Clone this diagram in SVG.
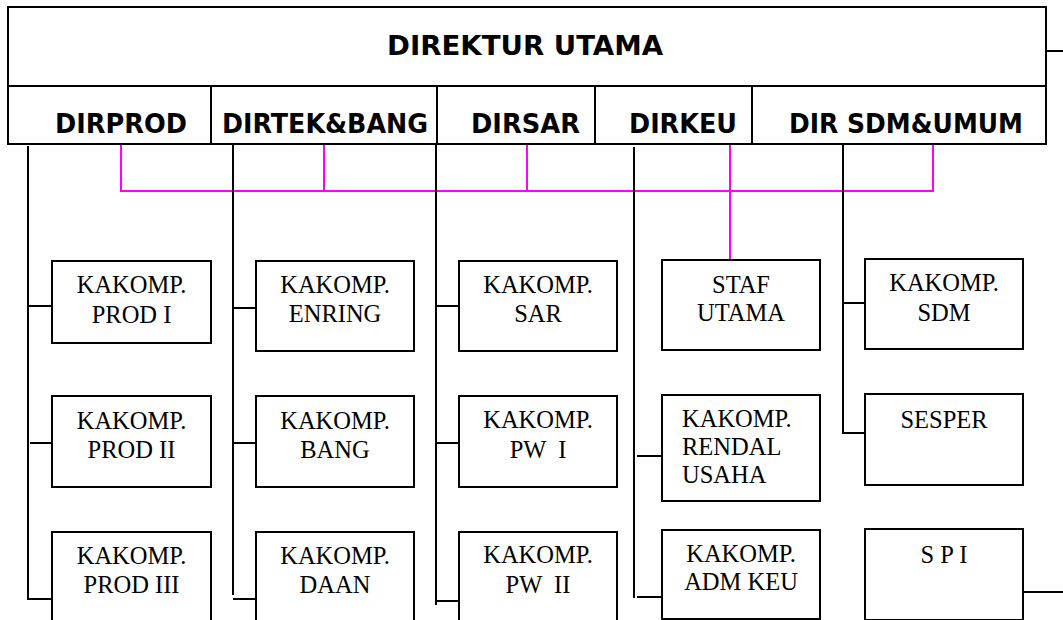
<svg xmlns="http://www.w3.org/2000/svg" width="1063" height="620" viewBox="0 0 1063 620">
<style>
.ln{stroke:#000;stroke-width:2;fill:none}
.mg{stroke:#FF00FF;stroke-width:2;fill:none}
.bx{stroke:#000;stroke-width:2;fill:#fff}
.hd{font-weight:bold;font-size:26px;fill:#000}
.tx{font-size:24.5px;fill:#000;text-anchor:middle;white-space:pre}
.tl{font-size:24.5px;fill:#000;white-space:pre}
</style>
<rect width="1063" height="620" fill="#fff"/>
<g font-family="'DejaVu Sans', Verdana, sans-serif">
<g id="header">
<path class="ln" d="M8,7 H1046 V144 H8 Z M8,86 H1046 M211,86 V144 M437,86 V144 M595,86 V144 M752,86 V144 M1046,51 H1063"/>
<text class="hd" x="387" y="55" textLength="276" lengthAdjust="spacingAndGlyphs">DIREKTUR UTAMA</text>
</g>
<g id="dirprod"><text class="hd" x="55" y="133" textLength="132" lengthAdjust="spacingAndGlyphs">DIRPROD</text></g>
<g id="dirtek"><text class="hd" x="222" y="133" textLength="206" lengthAdjust="spacingAndGlyphs">DIRTEK&amp;BANG</text></g>
<g id="dirsar"><text class="hd" x="471" y="133" textLength="109" lengthAdjust="spacingAndGlyphs">DIRSAR</text></g>
<g id="dirkeu"><text class="hd" x="629" y="133" textLength="108" lengthAdjust="spacingAndGlyphs">DIRKEU</text></g>
<g id="dirsdm"><text class="hd" x="789" y="133" textLength="234" lengthAdjust="spacingAndGlyphs">DIR SDM&amp;UMUM</text></g>
</g>
<g id="connectors">
<path class="mg" d="M121,145 V191 H933 V145 M324,145 V191 M527,145 V191 M730,145 V260"/>
<path class="ln" d="M28,146 V599 H52 M28,306 H52 M30,443 H52"/>
<path class="ln" d="M233,145 V595 M233,308 H256 M233,443 H256 M233,599 H256"/>
<path class="ln" d="M436,145 V605 M436,306 H459 M436,443 H459 M436,601 H459"/>
<path class="ln" d="M634,147 V598 M637,456 H662 M637,597 H662"/>
<path class="ln" d="M843,145 V433 H865 M843,303 H865"/>
<path class="ln" d="M1023,592 H1063"/>
</g>
<g font-family="'Liberation Serif', 'Times New Roman', serif">
<g id="prod1"><rect class="bx" x="52" y="261" width="159" height="82"/><text class="tx" x="131.5" y="293">KAKOMP.</text><text class="tx" x="131.5" y="323">PROD I</text></g>
<g id="prod2"><rect class="bx" x="52" y="396" width="159" height="91"/><text class="tx" x="131.5" y="429">KAKOMP.</text><text class="tx" x="131.5" y="458">PROD II</text></g>
<g id="prod3"><rect class="bx" x="52" y="532" width="159" height="100"/><text class="tx" x="131.5" y="564">KAKOMP.</text><text class="tx" x="131.5" y="593">PROD III</text></g>
<g id="enring"><rect class="bx" x="256" y="261" width="158" height="90"/><text class="tx" x="335" y="293">KAKOMP.</text><text class="tx" x="335" y="322">ENRING</text></g>
<g id="bang"><rect class="bx" x="256" y="396" width="158" height="91"/><text class="tx" x="335" y="429">KAKOMP.</text><text class="tx" x="335" y="458">BANG</text></g>
<g id="daan"><rect class="bx" x="256" y="532" width="158" height="100"/><text class="tx" x="335" y="564">KAKOMP.</text><text class="tx" x="335" y="593">DAAN</text></g>
<g id="sar"><rect class="bx" x="459" y="261" width="158" height="90"/><text class="tx" x="538" y="293">KAKOMP.</text><text class="tx" x="538" y="322">SAR</text></g>
<g id="pw1"><rect class="bx" x="459" y="396" width="158" height="91"/><text class="tx" x="538" y="428">KAKOMP.</text><text class="tx" x="538" y="458">PW  I</text></g>
<g id="pw2"><rect class="bx" x="459" y="532" width="158" height="100"/><text class="tx" x="538" y="563">KAKOMP.</text><text class="tx" x="538" y="593">PW  II</text></g>
<g id="staf"><rect class="bx" x="662" y="260" width="158" height="90"/><text class="tx" x="741" y="293">STAF</text><text class="tx" x="741" y="321">UTAMA</text></g>
<g id="rendal"><rect class="bx" x="662" y="395" width="158" height="106"/><text class="tl" x="682" y="427">KAKOMP.</text><text class="tl" x="682" y="455">RENDAL</text><text class="tl" x="682" y="483">USAHA</text></g>
<g id="admkeu"><rect class="bx" x="662" y="530" width="158" height="89"/><text class="tx" x="741" y="562">KAKOMP.</text><text class="tx" x="741" y="590">ADM KEU</text></g>
<g id="sdm"><rect class="bx" x="865" y="259" width="158" height="90"/><text class="tx" x="944" y="291">KAKOMP.</text><text class="tx" x="944" y="321">SDM</text></g>
<g id="sesper"><rect class="bx" x="865" y="394" width="158" height="91"/><text class="tx" x="944" y="428">SESPER</text></g>
<g id="spi"><rect class="bx" x="865" y="529" width="158" height="91"/><text class="tx" x="944" y="563">S P I</text></g>
</g>
</svg>
